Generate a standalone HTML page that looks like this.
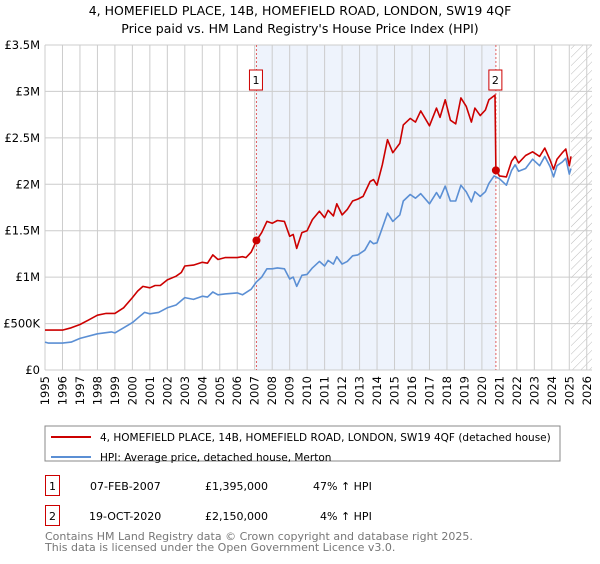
<!DOCTYPE html>
<html><head><meta charset="utf-8"><style>
body{margin:0;background:#fff;width:600px;height:560px;overflow:hidden;font-family:"DejaVu Sans","Liberation Sans",sans-serif}
</style></head><body>
<svg id="chart" width="600" height="560" xmlns="http://www.w3.org/2000/svg" font-family="DejaVu Sans, Liberation Sans, sans-serif">
<text x="300" y="15" text-anchor="middle" font-size="12.5">4, HOMEFIELD PLACE, 14B, HOMEFIELD ROAD, LONDON, SW19 4QF</text>
<text x="300" y="33" text-anchor="middle" font-size="12.5">Price paid vs. HM Land Registry's House Price Index (HPI)</text>
<g id="plot"></g>
<g>
<rect x="45" y="426" width="515" height="35" fill="#fff" stroke="#888"/>
<line x1="51" y1="437" x2="91" y2="437" stroke="#cc0000" stroke-width="2"/>
<text x="100" y="441" font-size="10.5">4, HOMEFIELD PLACE, 14B, HOMEFIELD ROAD, LONDON, SW19 4QF (detached house)</text>
<line x1="51" y1="457" x2="91" y2="457" stroke="#5b8fd4" stroke-width="2"/>
<text x="100" y="461" font-size="10.5">HPI: Average price, detached house, Merton</text>
</g>
<g font-size="11">
<rect x="45.5" y="475.5" width="14" height="20" fill="#fff" stroke="#cc0000"/>
<text x="52.5" y="490" text-anchor="middle">1</text>
<text x="90" y="490">07-FEB-2007</text>
<text x="205" y="490">£1,395,000</text>
<text x="313" y="490">47% ↑ HPI</text>
<rect x="45.5" y="505.5" width="14" height="20" fill="#fff" stroke="#cc0000"/>
<text x="52.5" y="520" text-anchor="middle">2</text>
<text x="89" y="520">19-OCT-2020</text>
<text x="205" y="520">£2,150,000</text>
<text x="320" y="520">4% ↑ HPI</text>
</g>
<text x="45" y="540" font-size="11" fill="#777">Contains HM Land Registry data © Crown copyright and database right 2025.</text>
<text x="45" y="551" font-size="11" fill="#777">This data is licensed under the Open Government Licence v3.0.</text>
</svg>
<script>
const yearTicks=[1995,1996,1997,1998,1999,2000,2001,2002,2003,2004,2005,2006,2007,2008,2009,2010,2011,2012,2013,2014,2015,2016,2017,2018,2019,2020,2021,2022,2023,2024,2025,2026];
const valueTicks=[0,0.5,1,1.5,2,2.5,3,3.5];
const valueTickLabels=["£0","£500K","£1M","£1.5M","£2M","£2.5M","£3M","£3.5M"];
const priceYears=[1995,1996,1996.5,1997,1997.5,1998,1998.5,1999,1999.5,2000,2000.3,2000.6,2001,2001.3,2001.6,2002,2002.5,2002.8,2003,2003.5,2004,2004.3,2004.6,2004.9,2005.3,2006,2006.3,2006.5,2006.8,2007.1,2007.4,2007.7,2008,2008.3,2008.7,2009,2009.2,2009.4,2009.7,2010,2010.3,2010.7,2011,2011.2,2011.5,2011.7,2012,2012.3,2012.6,2012.9,2013.2,2013.6,2013.8,2014,2014.3,2014.6,2014.9,2015.3,2015.5,2015.9,2016.2,2016.5,2017,2017.4,2017.6,2017.9,2018.2,2018.5,2018.8,2019.1,2019.4,2019.6,2019.9,2020.2,2020.4,2020.75,2020.8,2021,2021.4,2021.7,2021.9,2022.1,2022.5,2022.9,2023.3,2023.6,2023.9,2024.1,2024.3,2024.6,2024.8,2025,2025.1];
const priceValues=[0.43,0.43,0.455,0.49,0.54,0.59,0.61,0.61,0.67,0.78,0.85,0.9,0.885,0.91,0.91,0.97,1.01,1.05,1.12,1.13,1.16,1.15,1.24,1.19,1.21,1.21,1.22,1.21,1.27,1.395,1.48,1.6,1.58,1.61,1.6,1.44,1.46,1.31,1.48,1.5,1.62,1.71,1.64,1.72,1.66,1.79,1.67,1.73,1.82,1.84,1.87,2.03,2.05,1.99,2.21,2.48,2.34,2.44,2.64,2.71,2.67,2.79,2.63,2.82,2.72,2.91,2.69,2.65,2.93,2.84,2.67,2.82,2.74,2.8,2.91,2.96,2.15,2.09,2.08,2.25,2.3,2.23,2.31,2.35,2.3,2.39,2.26,2.16,2.27,2.34,2.38,2.2,2.3];
const hpiYears=[1995,1995.2,1996,1996.5,1997,1998,1998.8,1999,1999.5,2000,2000.5,2000.7,2001,2001.5,2002,2002.5,2003,2003.5,2004,2004.3,2004.6,2004.9,2005.3,2006,2006.3,2006.8,2007.1,2007.4,2007.7,2008,2008.3,2008.7,2009,2009.2,2009.4,2009.7,2010,2010.3,2010.7,2011,2011.2,2011.5,2011.7,2012,2012.3,2012.6,2012.9,2013.3,2013.6,2013.8,2014,2014.3,2014.6,2014.9,2015.3,2015.5,2015.9,2016.2,2016.5,2017,2017.4,2017.6,2017.9,2018.2,2018.5,2018.8,2019.1,2019.4,2019.6,2019.9,2020.2,2020.4,2020.7,2021,2021.4,2021.7,2021.9,2022.1,2022.5,2022.9,2023.3,2023.6,2023.9,2024.1,2024.3,2024.6,2024.8,2025,2025.1];
const hpiValues=[0.3,0.29,0.29,0.3,0.34,0.39,0.41,0.4,0.455,0.51,0.59,0.62,0.605,0.62,0.67,0.7,0.78,0.76,0.795,0.785,0.84,0.81,0.82,0.83,0.81,0.87,0.95,1.0,1.09,1.09,1.1,1.09,0.98,1.0,0.9,1.02,1.03,1.1,1.17,1.12,1.18,1.14,1.22,1.14,1.17,1.23,1.24,1.29,1.39,1.36,1.37,1.53,1.69,1.6,1.67,1.82,1.89,1.85,1.9,1.79,1.91,1.85,1.98,1.82,1.82,1.99,1.92,1.81,1.92,1.87,1.92,2.01,2.09,2.06,1.99,2.15,2.21,2.14,2.17,2.27,2.2,2.3,2.19,2.08,2.2,2.24,2.28,2.11,2.17];
const saleYears=[2007.1,2020.8];
const saleValues=[1.395,2.15];
const saleLabels=["1","2"];

const X0=45,X1=592,Y0=370,Y1=45,YR0=1995,YR1=2026.3,VMAX=3.5;
const xs=y=>X0+(y-YR0)/(YR1-YR0)*(X1-X0);
const ys=v=>Y0-v/VMAX*(Y0-Y1);
const NS="http://www.w3.org/2000/svg";
const plot=document.getElementById('plot');
function mk(tag,attrs,parent){const e=document.createElementNS(NS,tag);for(const k in attrs)e.setAttribute(k,attrs[k]);(parent||plot).appendChild(e);return e;}

let e=mk('rect',{x:xs(saleYears[0]),y:Y1,width:xs(saleYears[1])-xs(saleYears[0]),height:Y0-Y1,fill:'#eef3fc'});


const defs=mk('defs',{});
const pat=mk('pattern',{id:'hatch',width:6,height:6,patternUnits:'userSpaceOnUse',patternTransform:'rotate(45)'},defs);
mk('line',{x1:0,y1:0,x2:0,y2:6,stroke:'#bbb','stroke-width':1},pat);
e=mk('rect',{x:xs(2025.1),y:Y1,width:X1-xs(2025.1),height:Y0-Y1,fill:'url(#hatch)'});



yearTicks.forEach(yr=>{
 const x=xs(yr);
 let g=mk('line',{x1:x,y1:Y1,x2:x,y2:Y0,stroke:'#ccc','stroke-width':1});
 
 
 let t=mk('text',{x:0,y:0,'font-size':11.5,'text-anchor':'end',transform:`translate(${x+4},${Y0+6}) rotate(-90)`});
 t.textContent=yr;
 
 
});
valueTicks.forEach((v,i)=>{
 const y=ys(v);
 let g=mk('line',{x1:X0,y1:y,x2:X1,y2:y,stroke:'#ccc','stroke-width':1});
 
 
 let t=mk('text',{x:X0-5,y:y+4,'font-size':11.5,'text-anchor':'end'});
 t.textContent=valueTickLabels[i];
 
 
});
saleYears.forEach((yr,i)=>{
 let l=mk('line',{x1:xs(yr),y1:Y1,x2:xs(yr),y2:Y0,stroke:'#e06060','stroke-width':1,'stroke-dasharray':'2,2'});
 
 
});
function path(xa,va,color,name){
 const d=xa.map((y,i)=>(i?'L':'M')+xs(y).toFixed(1)+','+ys(va[i]).toFixed(1)).join('');
 const p=mk('path',{d:d,fill:'none',stroke:color,'stroke-width':1.6,'stroke-linejoin':'round'});
 
 
}
path(hpiYears,hpiValues,'#5b8fd4','hpi-line');
path(priceYears,priceValues,'#cc0000','price-line');
saleYears.forEach((yr,i)=>{
 let c=mk('circle',{cx:xs(yr),cy:ys(saleValues[i]),r:4,fill:'#cc0000'});
 
 
 let b=mk('rect',{x:xs(yr)-7,y:70,width:13,height:20,fill:'#fff',stroke:'#cc0000'});
 
 
 let t=mk('text',{x:xs(yr)-0.5,y:84,'font-size':11,'text-anchor':'middle'});
 t.textContent=saleLabels[i];
 
 
});
</script>
</body></html>
